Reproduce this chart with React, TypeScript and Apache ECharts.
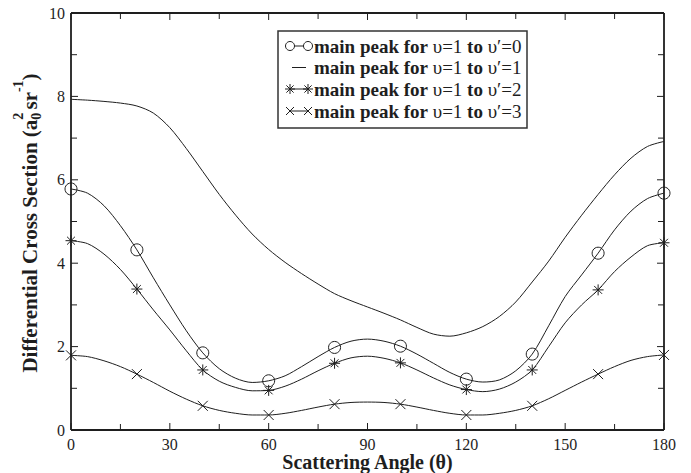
import React, { useEffect, useRef } from "react";
import * as echarts from "echarts";

const FONT = "'Liberation Serif', 'Times New Roman', serif";
const INK = "#1e1e1e";

const angles = [0, 5, 10, 15, 20, 25, 30, 35, 40, 45, 50, 55, 60, 65, 70, 75, 80, 85, 90, 95, 100, 105, 110, 115, 120, 125, 130, 135, 140, 145, 150, 155, 160, 165, 170, 175, 180];

const v0 = [5.78, 5.68, 5.38, 4.9, 4.32, 3.65, 3.0, 2.38, 1.85, 1.47, 1.24, 1.14, 1.18, 1.3, 1.52, 1.76, 1.98, 2.13, 2.18, 2.13, 2.01, 1.82, 1.6, 1.38, 1.22, 1.15, 1.2, 1.42, 1.82, 2.5, 3.2, 3.72, 4.24, 4.8, 5.25, 5.55, 5.68];
const v1 = [7.93, 7.91, 7.88, 7.84, 7.77, 7.6, 7.25, 6.75, 6.2, 5.65, 5.15, 4.7, 4.33, 4.02, 3.75, 3.5, 3.27, 3.1, 2.95, 2.8, 2.64, 2.46, 2.3, 2.25, 2.33, 2.48, 2.72, 3.07, 3.55, 4.05, 4.62, 5.15, 5.65, 6.12, 6.52, 6.8, 6.92];
const v2 = [4.54, 4.47, 4.22, 3.85, 3.38, 2.88, 2.4, 1.9, 1.44, 1.17, 1.02, 0.94, 0.95, 1.05, 1.22, 1.42, 1.6, 1.73, 1.77, 1.72, 1.61, 1.44, 1.25, 1.08, 0.97, 0.92, 0.98, 1.15, 1.44, 2.0, 2.57, 3.0, 3.36, 3.8, 4.15, 4.42, 4.49];
const v3 = [1.79, 1.76, 1.66, 1.52, 1.34, 1.14, 0.93, 0.74, 0.58, 0.47, 0.4, 0.36, 0.36, 0.4, 0.47, 0.55, 0.62, 0.66, 0.67, 0.66, 0.62, 0.55, 0.47, 0.4, 0.36, 0.36, 0.4, 0.47, 0.58, 0.75, 0.95, 1.15, 1.34, 1.52, 1.67, 1.76, 1.8];

const markerStep = 20;
const xMajor = [0, 30, 60, 90, 120, 150, 180];
const xMinor = [15, 45, 75, 105, 135, 165];
const yMajor = [0, 2, 4, 6, 8, 10];
const yMinor = [1, 3, 5, 7, 9];

const legendLabels = [
  { bold: "main peak for ", a: "\u03c5=1", b: "\u03c5\u2032=0" },
  { bold: "main peak for ", a: "\u03c5=1", b: "\u03c5\u2032=1" },
  { bold: "main peak for ", a: "\u03c5=1", b: "\u03c5\u2032=2" },
  { bold: "main peak for ", a: "\u03c5=1", b: "\u03c5\u2032=3" },
];

const STAR = "path://M0,-6L0,6M-6,0L6,0M-4.3,-4.3L4.3,4.3M-4.3,4.3L4.3,-4.3";
const CROSS = "path://M-5,-5L5,5M-5,5L5,-5";

function measure(text: string, size: number, weight: string) {
  const c = document.createElement("canvas").getContext("2d");
  if (!c) return text.length * size * 0.5;
  c.font = `${weight} ${size}px ${FONT}`;
  return c.measureText(text).width;
}

function buildSeries(name: string, values: number[], symbol: string, size: number) {
  return {
    name,
    type: "line",
    smooth: 0.3,
    showAllSymbol: true,
    symbol,
    symbolSize: size,
    lineStyle: { color: INK, width: 1 },
    itemStyle: { color: "none", borderColor: INK, borderWidth: 1 },
    emphasis: { disabled: true },
    data: angles.map((a, i) => ({
      value: [a, values[i]],
      symbol: symbol === "none" || a % markerStep !== 0 ? "none" : symbol,
    })),
  };
}

function yTitle() {
  const big = 21;
  const small = 14;
  const parts: any[] = [];
  const t1 = "Differential Cross Section (a";
  const w1 = measure(t1, big, "bold");
  const wSub = Math.max(measure("0", small, "bold"), measure("2", small, "bold"));
  const wSp = measure(" ", big, "bold");
  const wSr = measure("sr", big, "bold");
  const wM1 = measure("-1", small, "bold");
  const wPar = measure(")", big, "bold");
  const total = w1 + wSub + wSp * 0.6 + wSr + wM1 + wPar;
  let x = -total / 2;
  const mk = (text: string, size: number, lx: number, b: number) => ({
    type: "text",
    x: lx,
    y: b - 0.34 * size,
    style: {
      text,
      font: `bold ${size}px ${FONT}`,
      fill: INK,
      align: "left",
      verticalAlign: "middle",
      textAlign: "left",
      textVerticalAlign: "middle",
    },
  });
  parts.push(mk(t1, big, x, 0));
  x += w1;
  parts.push(mk("0", small, x, 4));
  parts.push(mk("2", small, x, -14));
  x += wSub + wSp * 0.6;
  parts.push(mk("sr", big, x, 0));
  x += wSr;
  parts.push(mk("-1", small, x, -14));
  x += wM1;
  parts.push(mk(")", big, x, 0));
  return {
    type: "group",
    x: 37,
    y: 223,
    rotation: Math.PI / 2,
    children: parts,
  };
}

function legend() {
  const left = 278, top = 31, w = 249, h = 97;
  const rows = [46, 67.5, 89, 111];
  const sx1 = 290, sx2 = 308, tx = 314;
  const lab0 = legendLabels[0];
  const w10 =
    measure(lab0.bold, 10, "bold") + measure(lab0.a, 10, "normal") + measure(" to ", 10, "bold") + measure(lab0.b, 10, "normal");
  const fs = Math.round(((10 * 207) / w10) * 2) / 2;
  const els: any[] = [
    { type: "rect", shape: { x: left, y: top, width: w, height: h }, style: { fill: "#fff", stroke: "#333", lineWidth: 1.5 } },
  ];
  const line = (x1: number, y1: number, x2: number, y2: number) => ({
    type: "line",
    shape: { x1, y1, x2, y2 },
    style: { stroke: INK, lineWidth: 1 },
  });
  rows.forEach((y, i) => {
    if (i === 0) {
      els.push(line(sx1 + 4.5, y, sx2 - 4.5, y));
      [sx1, sx2].forEach((cx) => els.push({ type: "circle", shape: { cx, cy: y, r: 4.5 }, style: { fill: "none", stroke: INK, lineWidth: 1 } }));
    } else if (i === 1) {
      els.push(line(sx1 + 2, y, sx2 - 2, y));
    } else if (i === 2) {
      els.push(line(sx1, y, sx2, y));
      [sx1, sx2].forEach((cx) => {
        const r = 5, d = 3.6;
        els.push(line(cx, y - r, cx, y + r));
        els.push(line(cx - r, y, cx + r, y));
        els.push(line(cx - d, y - d, cx + d, y + d));
        els.push(line(cx - d, y + d, cx + d, y - d));
      });
    } else {
      els.push(line(sx1, y, sx2, y));
      [sx1, sx2].forEach((cx) => {
        const d = 4;
        els.push(line(cx - d, y - d, cx + d, y + d));
        els.push(line(cx - d, y + d, cx + d, y - d));
      });
    }
    const lab = legendLabels[i];
    els.push({
      type: "text",
      x: tx,
      y,
      style: {
        text: `{b|${lab.bold}}{r|${lab.a}}{b| to }{r|${lab.b}}`,
        font: `bold ${fs}px ${FONT}`,
        fill: INK,
        verticalAlign: "middle",
        textVerticalAlign: "middle",
        rich: {
          b: { font: `bold ${fs}px ${FONT}`, fill: INK },
          r: { font: `normal ${fs}px ${FONT}`, fill: INK },
        },
      },
    });
  });
  return els;
}

function toPx(chart: any, x: number, y: number): number[] {
  const finders = [{ seriesIndex: 0 }, { xAxisIndex: 0, yAxisIndex: 0 }, { gridIndex: 0 }];
  for (const f of finders) {
    try {
      const p = chart.convertToPixel(f, [x, y]);
      if (p && isFinite(p[0]) && isFinite(p[1])) return [p[0], p[1]];
    } catch (e) {
      /* try next */
    }
  }
  const px = chart.convertToPixel({ xAxisIndex: 0 }, x);
  const py = chart.convertToPixel({ yAxisIndex: 0 }, y);
  return [Number(px), Number(py)];
}

function frameAndTicks(chart: any) {
  const [x0, y0] = toPx(chart, 0, 0);
  const [x1, y1] = toPx(chart, 180, 10);
  const els: any[] = [];
  const tick = (xa: number, ya: number, xb: number, yb: number) =>
    els.push({ type: "line", shape: { x1: xa, y1: ya, x2: xb, y2: yb }, style: { stroke: INK, lineWidth: 1 } });
  const major = 7, minor = 6;
  xMajor.forEach((v) => {
    const [x] = toPx(chart, v, 0);
    tick(x, y0, x, y0 - major);
    tick(x, y1, x, y1 + major);
  });
  xMinor.forEach((v) => {
    const [x] = toPx(chart, v, 0);
    tick(x, y0, x, y0 - minor);
    tick(x, y1, x, y1 + minor);
  });
  yMajor.forEach((v) => {
    const [, y] = toPx(chart, 0, v);
    tick(x0, y, x0 + major, y);
    tick(x1, y, x1 - major, y);
  });
  yMinor.forEach((v) => {
    const [, y] = toPx(chart, 0, v);
    tick(x0, y, x0 + minor, y);
    tick(x1, y, x1 - minor, y);
  });
  els.push({ type: "line", shape: { x1: x0, y1: y0, x2: x1, y2: y0 }, style: { stroke: INK, lineWidth: 1.8 } });
  els.push({ type: "line", shape: { x1: x0, y1: y1, x2: x1, y2: y1 }, style: { stroke: INK, lineWidth: 1.8 } });
  els.push({ type: "line", shape: { x1: x0, y1: y0, x2: x0, y2: y1 }, style: { stroke: INK, lineWidth: 1.8 } });
  els.push({ type: "line", shape: { x1: x1, y1: y0, x2: x1, y2: y1 }, style: { stroke: INK, lineWidth: 1.8 } });
  return els;
}

export default function App() {
  const ref = useRef<HTMLDivElement>(null);
  useEffect(() => {
    if (!ref.current) return;
    const chart = echarts.init(ref.current, null, { renderer: "svg" });
    const hidden = {
      axisLine: { show: false },
      axisTick: { show: false },
      minorTick: { show: false },
      splitLine: { show: false },
    };
    chart.setOption({
      animation: false,
      backgroundColor: "#fff",
      grid: { left: 71, top: 13, right: 27, bottom: 43, outerBoundsMode: "none", containLabel: false },
      xAxis: {
        type: "value",
        min: 0,
        max: 180,
        interval: 30,
        ...hidden,
        axisLabel: { fontFamily: FONT, fontSize: 16, color: INK, margin: 6 },
        name: "Scattering Angle (\u03b8)",
        nameLocation: "middle",
        nameGap: 22,
        nameMoveOverlap: false,
        nameTextStyle: { fontFamily: FONT, fontSize: 20, fontWeight: "bold", color: INK },
      },
      yAxis: {
        type: "value",
        min: 0,
        max: 10,
        interval: 2,
        ...hidden,
        axisLabel: { fontFamily: FONT, fontSize: 16, color: INK, margin: 6 },
      },
      series: [
        buildSeries("v0", v0, "circle", 12),
        buildSeries("v1", v1, "none", 0),
        buildSeries("v2", v2, STAR, 11),
        buildSeries("v3", v3, CROSS, 10),
      ],
    });
    chart.setOption({ graphic: [...frameAndTicks(chart), yTitle(), ...legend()] });
    return () => chart.dispose();
  }, []);
  return <div ref={ref} style={{ width: 691, height: 473, position: "absolute", left: 0, top: 0 }} />;
}
